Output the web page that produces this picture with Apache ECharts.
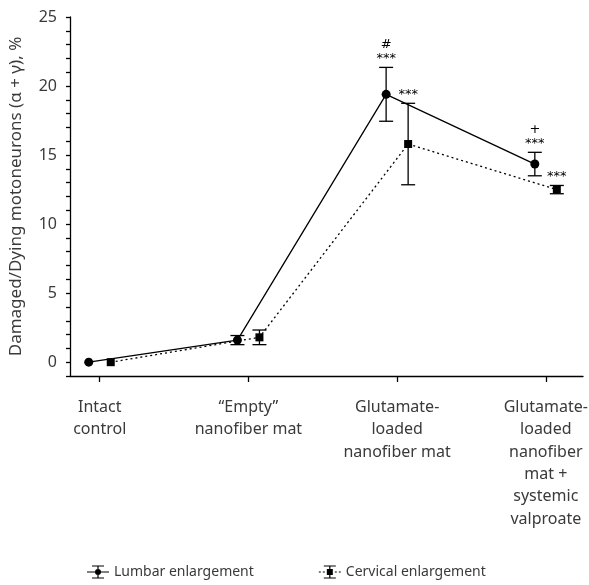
<!DOCTYPE html>
<html>
<head>
    <meta charset="UTF-8">
    <title>Damaged motoneurons</title>
    <script src="https://cdn.jsdelivr.net/npm/echarts/dist/echarts.min.js"></script>
</head>
<body style="margin:0">
<div id="chart" style="width: 589px; height: 585px;"></div>

<script>
    // groups on the x axis
    const categories = [
        'Intact\ncontrol',
        '\u201cEmpty\u201d\nnanofiber mat',
        'Glutamate-\nloaded\nnanofiber mat',
        'Glutamate-\nloaded\nnanofiber\nmat +\nsystemic\nvalproate'
    ];
    const yTicks = [0, 5, 10, 15, 20, 25];

    // mean and error (+/-) per group
    const lumbarMean = [0, 1.6, 19.4, 14.35];
    const lumbarErr = [0, 0.33, 1.95, 0.85];
    const cervicalMean = [0, 1.8, 15.8, 12.5];
    const cervicalErr = [0, 0.53, 2.95, 0.3];

    // significance marks above the error bars
    const lumbarMarks = ['', '', '#\n***', '+\n***'];
    const cervicalMarks = ['', '', '***', '***'];

    const shift = 0.074; // lumbar left of tick, cervical right of tick

    const lumbarPts = lumbarMean.map((v, i) => [i - shift, v, lumbarErr[i]]);
    const cervicalPts = cervicalMean.map((v, i) => [i + shift, v, cervicalErr[i]]);

    function errorBars(marks) {
        return function (params, api) {
            const x = api.value(0), y = api.value(1), e = api.value(2);
            const top = api.coord([x, y + e]);
            const bot = api.coord([x, y - e]);
            const w = 7;
            const st = { stroke: '#000', lineWidth: 1.3 };
            const children = [];
            if (e > 0) {
                children.push(
                    { type: 'line', shape: { x1: top[0], y1: top[1], x2: bot[0], y2: bot[1] }, style: st },
                    { type: 'line', shape: { x1: top[0] - w, y1: top[1], x2: top[0] + w, y2: top[1] }, style: st },
                    { type: 'line', shape: { x1: bot[0] - w, y1: bot[1], x2: bot[0] + w, y2: bot[1] }, style: st }
                );
            }
            const m = marks[params.dataIndex];
            if (m) {
                children.push({
                    type: 'text',
                    style: {
                        text: m, x: top[0], y: top[1] - 2,
                        align: 'center', verticalAlign: 'bottom',
                        fontSize: 13, fontFamily: 'DejaVu Sans', lineHeight: 14,
                        fill: '#000'
                    }
                });
            }
            return { type: 'group', children: children };
        };
    }

    const lumbarIcon = 'path://M0 7.4H22V8.6H0Z M10.4 2H11.6V14H10.4Z M5 1.4H17V2.6H5Z M5 13.4H17V14.6H5Z ' +
        'M8 8A3 3 0 1 1 14 8A3 3 0 1 1 8 8Z';
    const cervicalIcon = 'path://M0 7.4H2V8.6H0Z M4 7.4H6V8.6H4Z M16 7.4H18V8.6H16Z M20 7.4H22V8.6H20Z ' +
        'M10.4 2H11.6V14H10.4Z M5 1.4H17V2.6H5Z M5 13.4H17V14.6H5Z M8 5H14V11H8Z';

    const chart = echarts.init(document.getElementById('chart'));
    const textColor = '#3a3a3a';
    const option = {
        animation: false,
        textStyle: { fontFamily: 'Noto Sans' },
        grid: { left: 70, top: 17, right: 6, bottom: 209, outerBoundsMode: 'none', containLabel: false },
        legend: {
            bottom: 1,
            left: 82,
            itemGap: 65,
            itemWidth: 22,
            itemHeight: 16,
            textStyle: { color: textColor, fontSize: 14, fontFamily: 'Noto Sans' },
            data: [
                { name: 'Lumbar enlargement', icon: lumbarIcon },
                { name: 'Cervical enlargement', icon: cervicalIcon }
            ]
        },
        xAxis: {
            type: 'value',
            min: -0.2,
            max: 3.25,
            splitLine: { show: false },
            axisLine: { onZero: false, lineStyle: { color: '#000', width: 1.3 } },
            axisTick: { show: true, customValues: [0, 1, 2, 3], length: 6, lineStyle: { color: '#000', width: 1.3 } },
            axisLabel: {
                customValues: [0, 1, 2, 3],
                formatter: v => categories[Math.round(v)],
                color: textColor,
                fontSize: 16,
                lineHeight: 22.4,
                margin: 20,
                align: 'center',
                verticalAlign: 'top'
            }
        },
        yAxis: {
            type: 'value',
            min: -1,
            max: 25,
            interval: 1,
            name: 'Damaged/Dying motoneurons (\u03b1 + \u03b3), %',
            nameLocation: 'middle',
            nameGap: 45,
            nameTextStyle: { color: textColor, fontSize: 17 },
            splitLine: { show: false },
            axisLine: { show: true, onZero: false, lineStyle: { color: '#000', width: 1.3 } },
            axisTick: { show: true, length: 4, lineStyle: { color: '#000', width: 1.3 } },
            axisLabel: {
                color: textColor,
                fontSize: 16,
                margin: 13,
                formatter: v => (yTicks.indexOf(v) >= 0 ? String(v) : '')
            }
        },
        series: [
            {
                name: 'Lumbar enlargement',
                type: 'line',
                data: lumbarPts.map(p => [p[0], p[1]]),
                symbol: 'circle',
                symbolSize: 9,
                itemStyle: { color: '#000' },
                lineStyle: { color: '#000', width: 1.3 },
                z: 3
            },
            {
                name: 'Cervical enlargement',
                type: 'line',
                data: cervicalPts.map(p => [p[0], p[1]]),
                symbol: 'rect',
                symbolSize: 8,
                itemStyle: { color: '#000' },
                lineStyle: { color: '#000', width: 1.3, type: [2, 3] },
                z: 3
            },
            {
                type: 'custom',
                renderItem: errorBars(lumbarMarks),
                data: lumbarPts,
                encode: { x: 0, y: 1 },
                z: 2
            },
            {
                type: 'custom',
                renderItem: errorBars(cervicalMarks),
                data: cervicalPts,
                encode: { x: 0, y: 1 },
                z: 2
            }
        ]
    };

    chart.setOption(option);
</script>
</body>
</html>
